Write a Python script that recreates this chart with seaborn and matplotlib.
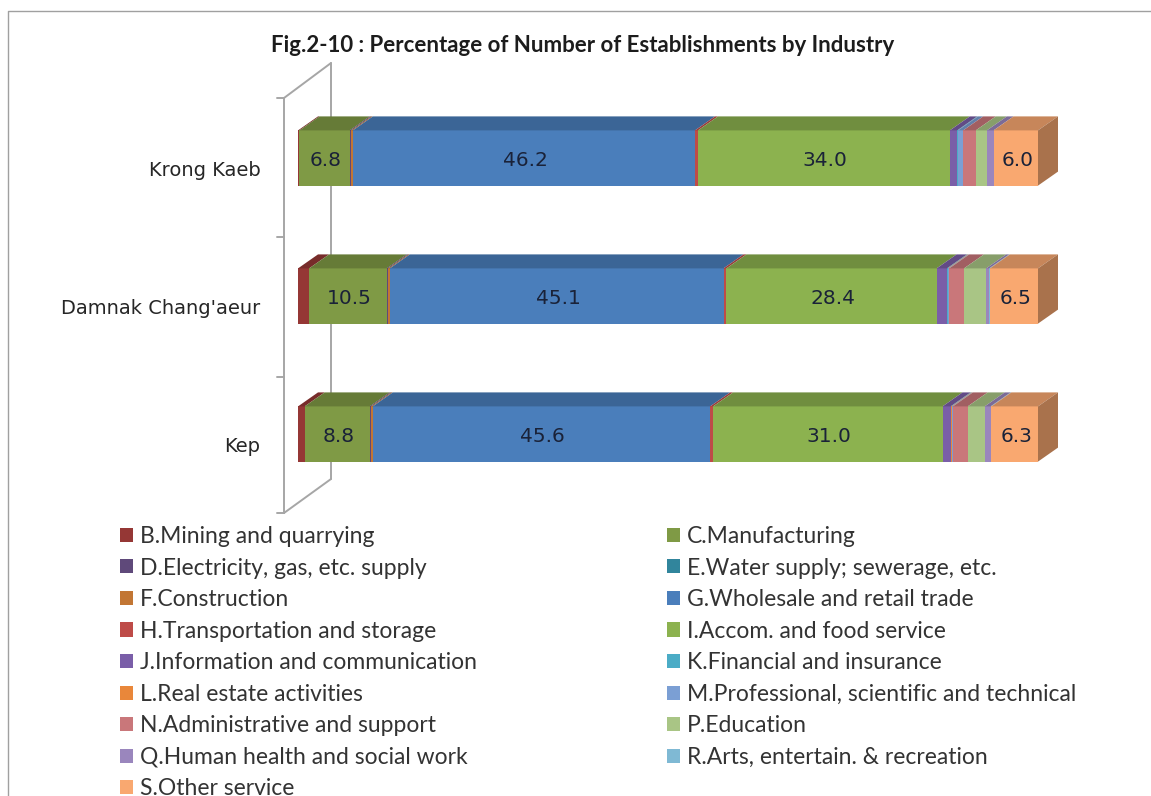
import matplotlib
matplotlib.use("Agg")
import matplotlib.pyplot as plt
from matplotlib.lines import Line2D
from matplotlib.transforms import ScaledTranslation
import numpy as np
import seaborn as sns

sns.set_theme(style="white")
plt.rcParams["font.family"] = ["DejaVu Sans"]

# Datos
regions = ["Krong Kaeb", "Damnak Chang'aeur", "Kep"]
industries = [
    "B.Mining and quarrying", "C.Manufacturing", "D.Electricity, gas, etc. supply",
    "E.Water supply; sewerage, etc.", "F.Construction", "G.Wholesale and retail trade",
    "H.Transportation and storage", "I.Accom. and food service",
    "J.Information and communication", "K.Financial and insurance",
    "L.Real estate activities", "M.Professional, scientific and technical",
    "N.Administrative and support", "P.Education", "Q.Human health and social work",
    "R.Arts, entertain. & recreation", "S.Other service",
]
values = [
    [0.2, 1.5, 0.9],
    [6.8, 10.5, 8.8],
    [0.2, 0.2, 0.2],
    [0.0, 0.0, 0.0],
    [0.2, 0.2, 0.2],
    [46.2, 45.1, 45.6],
    [0.4, 0.4, 0.4],
    [34.0, 28.4, 31.0],
    [1.0, 1.4, 1.1],
    [0.1, 0.1, 0.1],
    [0.0, 0.1, 0.1],
    [0.7, 0.1, 0.1],
    [1.7, 2.0, 2.0],
    [1.5, 3.0, 2.3],
    [0.9, 0.4, 0.8],
    [0.0, 0.1, 0.1],
    [6.0, 6.5, 6.3],
]
colors = [
    "#953735", "#7f9a45", "#5f497a", "#31859c", "#c27634", "#4a7ebb", "#be4b48",
    "#8cb24f", "#7a5ea8", "#4bacc6", "#e9873a", "#7b9fd4", "#c9777a", "#a9c585",
    "#9a86bd", "#7fb9d4", "#f9a870",
]
labeled = ["C.Manufacturing", "G.Wholesale and retail trade",
            "I.Accom. and food service", "S.Other service"]
title = "Fig.2-10 : Percentage of Number of Establishments by Industry"

W, H = 1151, 796
fig = plt.figure(figsize=(W / 100, H / 100), dpi=100)
# ejes en pixeles: 0-100% va de x=298 a x=1038
ax = fig.add_axes([298 / W, 1 - 503 / H, 740 / W, 414 / H])
ax.patch.set_alpha(0)

totals = np.array(values).sum(axis=0)
left = np.zeros(3)
bar_h = 0.4
dx = 20 / 7.4
dy = 14 / 138

for name, vals, col in zip(industries, values, colors):
    share = np.array(vals) / totals * 100
    sns.barplot(y=regions, x=share, left=left, color=col, saturation=1, width=bar_h,
                orient="h", ax=ax, zorder=3, linewidth=0)
    top_col = tuple(np.array(matplotlib.colors.to_rgb(col)) * 0.8)
    for i in range(3):
        y0 = i - bar_h / 2
        l, r = left[i], left[i] + share[i]
        ax.fill([l, r, r + dx, l + dx], [y0, y0, y0 - dy, y0 - dy], color=top_col,
                lw=0, clip_on=False, zorder=3)
    if name in labeled:
        texts = ax.bar_label(ax.containers[-1], labels=[f"{v:.1f}" for v in vals],
                             label_type="center", fontsize=14.5, color="#1a2238", zorder=5)
        for t in texts:
            t.xyann = (1, -1.5)
    left = left + share

# cara lateral derecha
side_col = tuple(np.array(matplotlib.colors.to_rgb(colors[-1])) * 0.68)
for i in range(3):
    y0, y1 = i - bar_h / 2, i + bar_h / 2
    ax.fill([100, 100 + dx, 100 + dx, 100], [y0, y0 - dy, y1 - dy, y1], color=side_col,
            lw=0, clip_on=False, zorder=3)

ax.set_xlim(0, 100)
ax.set_ylim(2.5, -0.5)
ax.set_xlabel("")
ax.set_ylabel("")
ax.xaxis.set_visible(False)
for s in ax.spines.values():
    s.set_visible(False)
ax.tick_params(axis="y", length=0, pad=27, labelsize=14, labelcolor="#262626")
offset = ScaledTranslation(0, -11 / 100, fig.dpi_scale_trans)
for lab in ax.get_yticklabels():
    lab.set_transform(lab.get_transform() + offset)


def px_line(xs, ys):
    # detras de los ejes para que las barras tapen la pared
    fig.add_artist(Line2D([x / W for x in xs], [1 - y / H for y in ys], color="#a6a6a6",
                          lw=1.4, zorder=-1))


# pared del grafico 3D
px_line([284, 284], [98, 513])
px_line([331, 331], [63, 479])
px_line([284, 331], [98, 63])
px_line([284, 331], [513, 479])
for ty in [98, 237, 377, 513]:
    px_line([277, 284], [ty, ty])

# borde de la captura
fig.add_artist(Line2D([8 / W, 8 / W, 1], [0, 1 - 11 / H, 1 - 11 / H], color="#a0a0a0", lw=1))

fig.text(583 / W, 1 - 46 / H, title, ha="center", va="center", fontsize=16,
         fontweight="bold", family="Lato", color="#1c1c1c")

# leyenda: columna izquierda B, D, F... y derecha C, E, G...
order = list(range(0, 17, 2)) + list(range(1, 17, 2))
handles = [ax.containers[i] for i in order]
labels = [industries[i] for i in order]
fig.legend(handles, labels, ncol=2, loc="upper left", bbox_to_anchor=(120 / W, 1 - 526 / H),
           frameon=False, prop={"family": "Lato", "size": 16.5}, labelcolor="#333333",
           handlelength=0.57, handleheight=0.57, handletextpad=0.3, labelspacing=0.46,
           columnspacing=8.3, borderpad=0, borderaxespad=0)

fig.savefig("out.png", dpi=100)
